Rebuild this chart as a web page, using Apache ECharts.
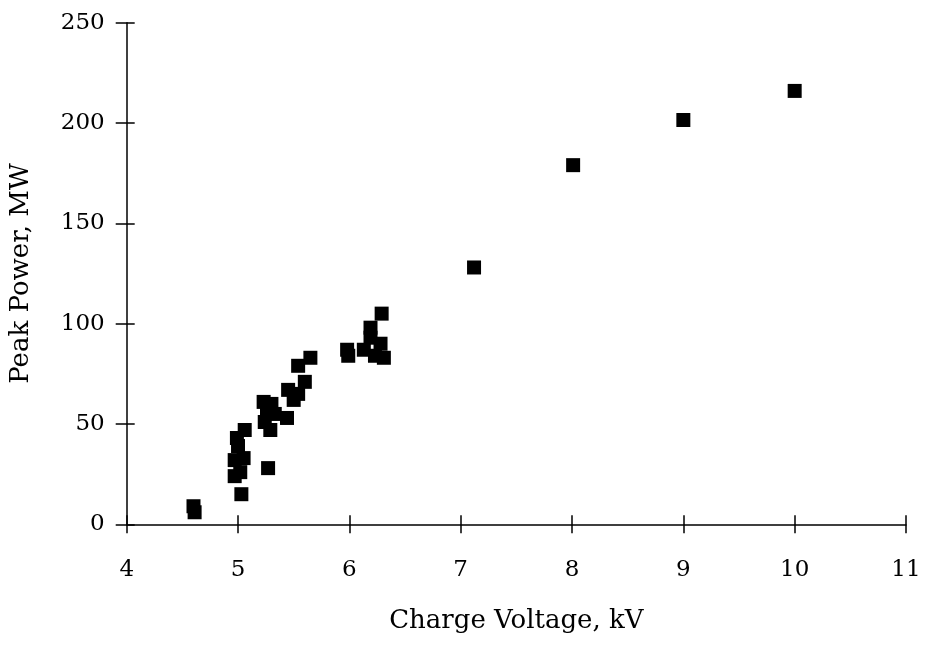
<!DOCTYPE html>
<html>
<head>
<meta charset="utf-8">
<script src="https://cdn.jsdelivr.net/npm/echarts@6/dist/echarts.min.js"></script>
<style>html,body{margin:0;padding:0;background:#fff}#c{width:925px;height:646px}</style>
</head>
<body>
<div id="c"></div>
<script>
const chargeVoltage = [4.60, 4.61, 4.97, 5.02, 4.97, 5.05, 5.00, 4.99, 5.06, 5.03, 5.27,
  5.23, 5.30, 5.26, 5.33, 5.24, 5.29, 5.44, 5.45, 5.50, 5.54, 5.60, 5.54, 5.65,
  5.98, 5.99, 6.13, 6.19, 6.19, 6.28, 6.23, 6.31, 6.29,
  7.12, 8.01, 9.00, 10.00];
const peakPower = [9, 6, 24, 26, 32, 33, 39, 43, 47, 15, 28,
  61, 60, 56, 55, 51, 47, 53, 67, 62, 65, 71, 79, 83,
  87, 84, 87, 93, 98, 90, 84, 83, 105,
  128, 179, 201.5, 216];
const xTicks = [4, 5, 6, 7, 8, 9, 10, 11];
const yTicks = [0, 50, 100, 150, 200, 250];

const points = chargeVoltage.map((v, i) => [v, peakPower[i]]);
const font = 'DejaVu Serif';
const chart = echarts.init(document.getElementById('c'));
const lineStyle = { color: '#000', width: 1.5 };
chart.setOption({
  animation: false,
  grid: { left: 126.7, right: 19, top: 22.7, bottom: 121.7 },
  xAxis: [{
    type: 'value', min: xTicks[0], max: xTicks[xTicks.length - 1], interval: 1,
    name: 'Charge Voltage, kV', nameLocation: 'middle', nameGap: 84,
    nameTextStyle: { fontFamily: font, fontSize: 26, color: '#000' },
    axisLine: { show: true, lineStyle: lineStyle },
    axisTick: { show: true, inside: false, length: 9, lineStyle: lineStyle },
    axisLabel: { fontFamily: font, fontSize: 23, color: '#000', margin: 34 },
    splitLine: { show: false }
  }, {
    type: 'value', min: xTicks[0], max: xTicks[xTicks.length - 1], interval: 1,
    position: 'bottom',
    axisLine: { show: false },
    axisTick: { show: true, inside: true, length: 9, lineStyle: lineStyle },
    axisLabel: { show: false },
    splitLine: { show: false }
  }],
  yAxis: [{
    type: 'value', min: yTicks[0], max: yTicks[yTicks.length - 1], interval: 50,
    name: 'Peak Power, MW', nameLocation: 'middle', nameGap: 92,
    nameTextStyle: { fontFamily: font, fontSize: 26, color: '#000' },
    axisLine: { show: true, lineStyle: lineStyle },
    axisTick: { show: true, inside: false, length: 11, lineStyle: lineStyle },
    axisLabel: { fontFamily: font, fontSize: 23, color: '#000', margin: 22 },
    splitLine: { show: false }
  }, {
    type: 'value', min: yTicks[0], max: yTicks[yTicks.length - 1], interval: 50,
    position: 'left',
    axisLine: { show: false },
    axisTick: { show: true, inside: true, length: 8, lineStyle: lineStyle },
    axisLabel: { show: false },
    splitLine: { show: false }
  }],
  series: [{
    type: 'scatter', xAxisIndex: 0, yAxisIndex: 0,
    symbol: 'rect', symbolSize: 14,
    itemStyle: { color: '#000', opacity: 1 },
    data: points
  }]
});
</script>
</body>
</html>
